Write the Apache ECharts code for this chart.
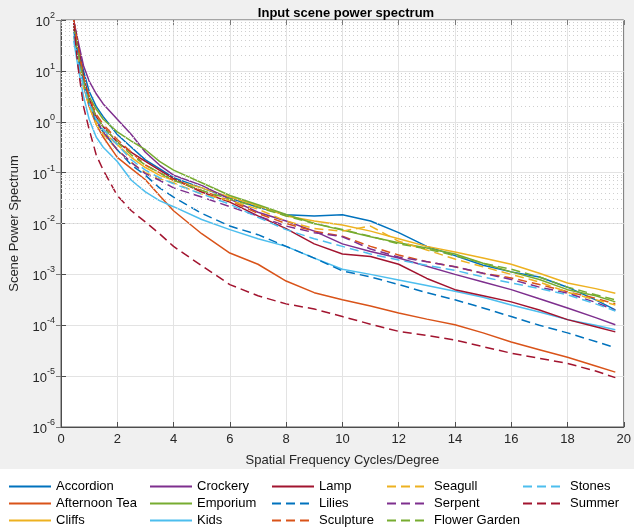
<!DOCTYPE html>
<html>
<head>
<meta charset="utf-8">
<script src="https://cdn.jsdelivr.net/npm/echarts@6/dist/echarts.min.js"></script>
<style>html,body{margin:0;padding:0;background:#fff;}#chart{width:634px;height:532px;}</style>
</head>
<body>
<div id="chart"></div>
<script>
// Spatial frequency (cycles/degree)
const freq = [0.45, 0.6, 0.8, 1, 1.25, 1.5, 2, 2.5, 3, 3.5, 4, 5, 6, 7, 8, 9, 10, 11, 12, 13, 14, 15, 16, 17, 18, 19, 19.7];

const accordion = [100, 31.6, 10, 3.98, 2.0, 1.26, 0.562, 0.316, 0.178, 0.120, 0.0794, 0.0501, 0.0316, 0.0209, 0.0148, 0.0141, 0.0148, 0.0112, 0.0066, 0.00355, 0.00234, 0.00151, 0.00112, 0.00089, 0.00056, 0.000316, 0.0002];
const afternoonTea = [79.4, 20, 5.01, 2.0, 0.891, 0.501, 0.2, 0.12, 0.0724, 0.0355, 0.0178, 0.0063, 0.00263, 0.00158, 0.00074, 0.000437, 0.000316, 0.00024, 0.000174, 0.000132, 0.000102, 7.08e-5, 4.68e-5, 3.31e-5, 2.34e-5, 1.58e-5, 1.2e-5];
const cliffs = [79.4, 25.1, 6.31, 2.24, 1.0, 0.631, 0.355, 0.2, 0.126, 0.0891, 0.0708, 0.0501, 0.0331, 0.0224, 0.0141, 0.0112, 0.00933, 0.00708, 0.00501, 0.00355, 0.00275, 0.00209, 0.00158, 0.00105, 0.000676, 0.000525, 0.000427];
const crockery = [100, 39.8, 12.6, 6.31, 3.55, 2.24, 1.12, 0.562, 0.251, 0.141, 0.0891, 0.0562, 0.0302, 0.0166, 0.0112, 0.00708, 0.00398, 0.00282, 0.00209, 0.00145, 0.001, 0.000708, 0.000501, 0.000331, 0.000219, 0.000141, 0.000102];
const emporium = [50.1, 20, 6.31, 3.16, 1.78, 1.12, 0.631, 0.417, 0.282, 0.166, 0.112, 0.0631, 0.0355, 0.0234, 0.0151, 0.01, 0.00741, 0.0055, 0.00417, 0.00331, 0.00251, 0.00166, 0.00112, 0.000794, 0.000501, 0.00038, 0.000288];
const kids = [39.8, 12.6, 3.16, 1.12, 0.501, 0.316, 0.166, 0.0708, 0.0417, 0.0282, 0.0214, 0.012, 0.00759, 0.00501, 0.00355, 0.00209, 0.00126, 0.001, 0.000776, 0.000603, 0.000468, 0.000355, 0.000251, 0.000182, 0.000129, 0.0001, 8.13e-5];
const lamp = [100, 31.6, 7.94, 2.82, 1.26, 0.794, 0.398, 0.251, 0.166, 0.112, 0.0759, 0.0417, 0.0263, 0.0141, 0.00794, 0.00398, 0.00251, 0.00224, 0.00158, 0.000832, 0.000501, 0.00038, 0.000288, 0.0002, 0.000129, 9.33e-5, 7.41e-5];
const lilies = [63.1, 20, 5.62, 2.24, 1.0, 0.631, 0.282, 0.141, 0.0891, 0.0501, 0.0331, 0.0158, 0.00891, 0.00603, 0.00355, 0.00209, 0.00117, 0.000891, 0.000631, 0.000437, 0.000316, 0.000219, 0.000148, 0.0001, 7.08e-5, 4.79e-5, 3.63e-5];
const sculpture = [100, 31.6, 7.94, 3.16, 1.41, 0.891, 0.447, 0.251, 0.141, 0.1, 0.0708, 0.0447, 0.0282, 0.0158, 0.01, 0.00708, 0.00562, 0.00355, 0.0024, 0.00178, 0.00141, 0.00105, 0.000851, 0.000631, 0.000457, 0.000339, 0.000263];
const seagull = [79.4, 20, 5.01, 2.0, 0.891, 0.562, 0.282, 0.158, 0.1, 0.0759, 0.0631, 0.038, 0.0282, 0.0191, 0.0112, 0.00794, 0.00708, 0.00891, 0.00447, 0.00302, 0.002, 0.00141, 0.001, 0.000708, 0.000447, 0.000316, 0.000251];
const serpent = [79.4, 25.1, 6.31, 2.51, 1.12, 0.631, 0.282, 0.158, 0.0955, 0.0708, 0.0501, 0.0331, 0.0214, 0.0141, 0.00891, 0.00661, 0.0055, 0.00316, 0.00219, 0.00178, 0.00141, 0.00105, 0.000794, 0.000562, 0.000427, 0.000282, 0.000195];
const flowerGarden = [79.4, 25.1, 6.31, 2.51, 1.26, 0.794, 0.398, 0.224, 0.141, 0.1, 0.0708, 0.0447, 0.0302, 0.0209, 0.0141, 0.01, 0.00759, 0.00562, 0.00398, 0.00316, 0.00234, 0.00166, 0.00126, 0.000891, 0.000562, 0.000398, 0.000316];
const stones = [50.1, 15.8, 5.01, 2.24, 1.12, 0.708, 0.355, 0.178, 0.112, 0.0794, 0.0603, 0.038, 0.024, 0.0132, 0.00759, 0.00501, 0.00355, 0.00251, 0.00191, 0.00151, 0.0012, 0.000891, 0.000676, 0.000525, 0.000398, 0.000263, 0.000191];
const summer = [89.1, 12.6, 2.0, 0.708, 0.224, 0.112, 0.0355, 0.0178, 0.0107, 0.0063, 0.00355, 0.00148, 0.00063, 0.00038, 0.000263, 0.000209, 0.000148, 0.000105, 7.59e-5, 6.31e-5, 5.13e-5, 3.8e-5, 2.82e-5, 2.24e-5, 1.78e-5, 1.26e-5, 9.33e-6];

const names = ['Accordion', 'Afternoon Tea', 'Cliffs', 'Crockery', 'Emporium', 'Kids', 'Lamp',
  'Lilies', 'Sculpture', 'Seagull', 'Serpent', 'Flower Garden', 'Stones', 'Summer'];
const values = [accordion, afternoonTea, cliffs, crockery, emporium, kids, lamp,
  lilies, sculpture, seagull, serpent, flowerGarden, stones, summer];
const colors = ['#0072BD', '#D95319', '#EDB120', '#7E2F8E', '#77AC30', '#4DBEEE', '#A2142F'];
const xTicks = [0, 2, 4, 6, 8, 10, 12, 14, 16, 18, 20];

const FONT = 'Liberation Sans, Arial, Helvetica, sans-serif';
const TXT = '#262626';

// minor log grid positions (2..9 per decade)
const minorGrid = [];
for (let d = -6; d < 2; d++) {
  for (let k = 2; k <= 9; k++) minorGrid.push({ yAxis: k * Math.pow(10, d) });
}

const series = names.map((n, i) => ({
  name: n,
  type: 'line',
  xAxisIndex: 0,
  yAxisIndex: 0,
  data: freq.map((f, j) => [f, values[i][j]]),
  symbol: 'none',
  showSymbol: false,
  smooth: false,
  silent: true,
  color: colors[i % 7],
  lineStyle: { width: 1.5, color: colors[i % 7], type: i < 7 ? 'solid' : [9, 5] },
  z: 3
}));
series.push({
  name: '_minor',
  type: 'line',
  data: [],
  silent: true,
  markLine: {
    silent: true,
    symbol: 'none',
    label: { show: false },
    lineStyle: { type: [1, 3], color: '#cfcfcf', width: 1 },
    data: minorGrid
  },
  z: 1
});

const expLabel = v => {
  const e = Math.round(Math.log10(v));
  return '{b|10}{s|' + e + '}';
};

const legendCols = [
  { left: 8, items: names.slice(0, 3) },
  { left: 149, items: names.slice(3, 6) },
  { left: 271, items: names.slice(6, 9) },
  { left: 386, items: names.slice(9, 12) },
  { left: 522, items: names.slice(12, 14) }
];

const chart = echarts.init(document.getElementById('chart'), null, { renderer: 'canvas' });
chart.setOption({
  animation: false,
  backgroundColor: '#ffffff',
  textStyle: { fontFamily: FONT },
  graphic: [
    { type: 'rect', left: 0, top: 0, shape: { width: 634, height: 469 }, style: { fill: '#f0f0f0' }, z: -10, silent: true }
  ],
  title: {
    text: 'Input scene power spectrum',
    left: 341, top: 2, textAlign: 'center',
    textStyle: { fontFamily: FONT, fontSize: 13, fontWeight: 'bold', color: '#000' }
  },
  grid: { left: 57, right: 8, top: 20, bottom: 105, show: true, backgroundColor: '#ffffff', borderColor: '#5a5a5a', borderWidth: 1, containLabel: false },
  xAxis: [{
    type: 'value', min: 0, max: 20, interval: 2, position: 'bottom',
    name: 'Spatial Frequency Cycles/Degree', nameLocation: 'middle', nameGap: 27,
    nameTextStyle: { fontFamily: FONT, fontSize: 13, color: TXT },
    axisLine: { show: true, lineStyle: { color: '#4d4d4d', width: 1 } },
    axisTick: { show: true, inside: true, length: 5, lineStyle: { color: '#4d4d4d' } },
    axisLabel: { fontFamily: FONT, fontSize: 13, color: TXT, margin: 6 },
    splitLine: { show: true, lineStyle: { color: '#e3e3e3', width: 1 } }
  }, {
    type: 'value', min: 0, max: 20, interval: 2, position: 'top',
    axisLine: { show: false },
    axisTick: { show: true, inside: true, length: 5, lineStyle: { color: '#7a7a7a' } },
    axisLabel: { show: false }, splitLine: { show: false }
  }],
  yAxis: [{
    type: 'log', logBase: 10, min: 1e-6, max: 100, position: 'left',
    name: 'Scene Power Spectrum', nameLocation: 'middle', nameGap: 40,
    nameTextStyle: { fontFamily: FONT, fontSize: 13, color: TXT },
    axisLine: { show: true, lineStyle: { color: '#4d4d4d', width: 1 } },
    axisTick: { show: true, inside: true, length: 5, lineStyle: { color: '#4d4d4d' } },
    axisLabel: {
      fontFamily: FONT, color: TXT, margin: 6, formatter: expLabel,
      rich: {
        b: { fontFamily: FONT, fontSize: 13, color: TXT, lineHeight: 18, verticalAlign: 'bottom' },
        s: { fontFamily: FONT, fontSize: 9, color: TXT, lineHeight: 10, verticalAlign: 'top' }
      }
    },
    splitLine: { show: true, lineStyle: { color: '#e3e3e3', width: 1 } }
  }, {
    type: 'log', logBase: 10, min: 1e-6, max: 100, position: 'right',
    axisLine: { show: false },
    axisTick: { show: true, inside: true, length: 5, lineStyle: { color: '#7a7a7a' } },
    axisLabel: { show: false }, splitLine: { show: false }
  }],
  legend: legendCols.map(c => ({
    data: c.items,
    orient: 'vertical',
    left: c.left, top: 480,
    itemWidth: 42, itemHeight: 14, itemGap: 4,
    selectedMode: false,
    padding: 0,
    itemStyle: { opacity: 0 },
    textStyle: { fontFamily: FONT, fontSize: 13, color: '#000' }
  })),
  series: series
});
</script>
</body>
</html>
